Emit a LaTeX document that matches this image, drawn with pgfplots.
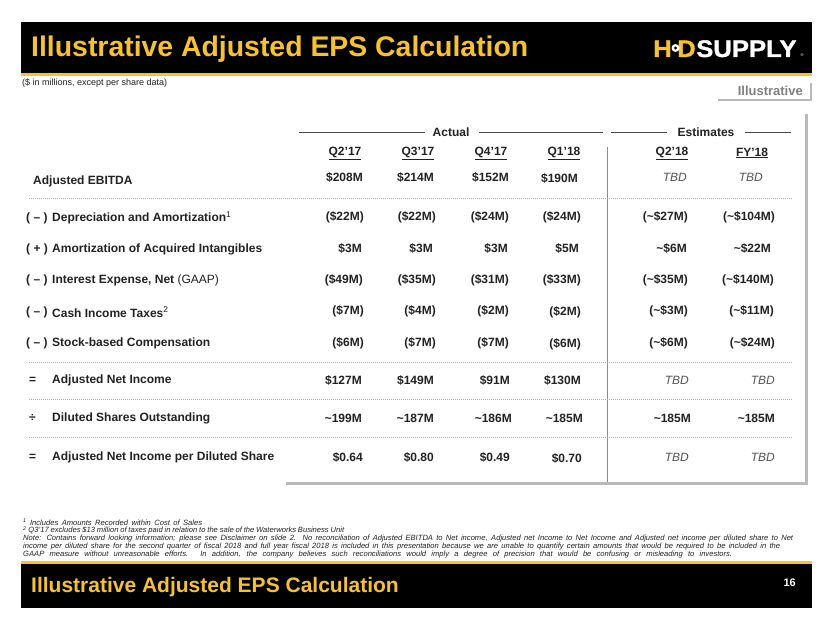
\documentclass[border=0pt]{standalone}
\usepackage{pgfplots}
\pgfplotsset{compat=1.18}
\usepackage{fontspec}
\setmainfont{Liberation Sans}
\newfontfamily\logofont[FakeStretch=1.07,FakeBold=1.2]{Liberation Sans Bold}
\usetikzlibrary{shadows}
\definecolor{hdyellow}{HTML}{F7C325}
\definecolor{txt}{HTML}{222222}
\definecolor{tbd}{HTML}{555555}
\newcommand\fs[1]{\fontsize{#1bp}{#1bp}\selectfont}
\newcommand\tl{\textasciitilde}
\tikzset{
  lab/.style={anchor=west,inner sep=0pt,font=\fs{12}\bfseries,text=txt},
  hdr/.style={anchor=center,inner sep=0pt,font=\fs{12}\bfseries,text=txt}}
\pgfplotsset{
  valstyle/.style={draw=none,mark=none,nodes near coords,point meta=explicit symbolic,
    nodes near coords align={anchor=east},
    every node near coord/.append style={anchor=east,inner sep=0pt,font=\fs{12}\bfseries,text=txt}},
  tbdstyle/.style={valstyle,every node near coord/.append style={font=\fs{12}\itshape,text=tbd}}}
\begin{document}
\begin{tikzpicture}
\begin{axis}[width=830bp,height=623bp,scale only axis,
  xmin=0,xmax=830,ymin=0,ymax=623,y dir=reverse,hide axis,clip=false]
% background
\fill[white] (0,0) rectangle (830,623);
% top banner
\fill[black] (21,22) rectangle (812,73);
\fill[hdyellow] (21,73) rectangle (812,75.5);
\node[anchor=base west,inner sep=0pt,text=hdyellow,font=\fs{28.4}\bfseries] at (31,57) {Illustrative Adjusted EPS Calculation};
% logo
\node[anchor=base west,inner sep=0pt,text=hdyellow,font=\fs{24}\logofont] at (653,57) {H};
\node[anchor=base west,inner sep=0pt,text=hdyellow,font=\fs{24}\logofont] at (677,57) {D};
\node[anchor=base west,inner sep=0pt,text=white,font=\fs{24}\logofont] at (696,57) {SUPPLY};
\node[anchor=base west,inner sep=0pt,text=white,font=\fs{4}] at (800.5,57) {\textregistered};
\fill[white] (675.5,48) circle[radius=4bp];
\fill[black] (675.5,48) circle[radius=1.6bp];
% subtitle
\node[anchor=west,inner sep=0pt,text=txt,font=\fs{9}] at (22,83) {(\$ in millions, except per share data)};
% Illustrative box
\path[fill=white,drop shadow={shadow xshift=1.5bp,shadow yshift=-1.5bp,fill=black!60,opacity=0.45}] (716,81) rectangle (810,99);
\node[anchor=east,inner sep=0pt,text=black!50,font=\fs{13}\bfseries] at (803,90.5) {Illustrative};
% table card
\path[fill=white,drop shadow={shadow xshift=2.5bp,shadow yshift=-2.5bp,fill=black!60,opacity=0.45}] (283,111) rectangle (805,482);
% group headers
\draw[black!70,line width=0.8bp] (299,132) -- (425,132);
\draw[black!70,line width=0.8bp] (479,132) -- (603,132);
\draw[black!70,line width=0.8bp] (611,132) -- (667,132);
\draw[black!70,line width=0.8bp] (745,132) -- (791,132);
\node[hdr] at (451,132) {Actual};
\node[hdr] at (706,132) {Estimates};
\node[hdr] at (345,153) {\underline{Q2’17}};
\node[hdr] at (418,153) {\underline{Q3’17}};
\node[hdr] at (491,153) {\underline{Q4’17}};
\node[hdr] at (564,153) {\underline{Q1’18}};
\node[hdr] at (672,153) {\underline{Q2’18}};
\node[hdr] at (752,153) {\underline{FY’18}};
% vertical divider
\draw[black!45,line width=1bp] (607,147) -- (607,482);
% separators
\draw[black!30,line width=0.6bp,dash pattern=on 1bp off 1bp] (29,198) -- (793,198);
\draw[black!30,line width=0.6bp,dash pattern=on 1bp off 1bp] (29,362) -- (793,362);
\draw[black!30,line width=0.6bp,dash pattern=on 1bp off 1bp] (29,399) -- (793,399);
\draw[black!30,line width=0.6bp,dash pattern=on 1bp off 1bp] (29,437) -- (793,437);
% row labels
\node[lab] at (33,181) {Adjusted EBITDA};
\node[lab] at (26,218) {( – )};
\node[lab] at (52,218) {Depreciation and Amortization\textsuperscript{\mdseries 1}};
\node[lab] at (26,249) {( + )};
\node[lab] at (52,249) {Amortization of Acquired Intangibles};
\node[lab] at (26,280) {( – )};
\node[lab] at (52,280) {Interest Expense, Net {\mdseries (GAAP)}};
\node[lab] at (26,312) {( – )};
\node[lab] at (52,312) {Cash Income Taxes\textsuperscript{\mdseries 2}};
\node[lab] at (26,343) {( – )};
\node[lab] at (52,343) {Stock-based Compensation};
\node[lab] at (29,380) {=};
\node[lab] at (52,380) {Adjusted Net Income};
\node[lab] at (29,418) {÷};
\node[lab] at (52,418) {Diluted Shares Outstanding};
\node[lab] at (29,457) {=};
\node[lab] at (52,457) {Adjusted Net Income per Diluted Share};
% values: Q2'17
\addplot[valstyle] coordinates {
 (363,177) [\$208M] (364,217) [(\$22M)] (362,248) [\$3M] (363,280) [(\$49M)]
 (364,311) [(\$7M)] (364,343) [(\$6M)] (362,380) [\$127M] (362,418) [\tl199M] (363,457) [\$0.64]};
% Q3'17
\addplot[valstyle] coordinates {
 (434,177) [\$214M] (436,217) [(\$22M)] (433,248) [\$3M] (436,280) [(\$35M)]
 (436,311) [(\$4M)] (436,343) [(\$7M)] (434,380) [\$149M] (434,418) [\tl187M] (434,457) [\$0.80]};
% Q4'17
\addplot[valstyle] coordinates {
 (509,177) [\$152M] (509,217) [(\$24M)] (508,248) [\$3M] (509,280) [(\$31M)]
 (509,311) [(\$2M)] (509,343) [(\$7M)] (510,380) [\$91M] (512,418) [\tl186M] (510,457) [\$0.49]};
% Q1'18
\addplot[valstyle] coordinates {
 (578,178) [\$190M] (581,217) [(\$24M)] (579,248) [\$5M] (581,280) [(\$33M)]
 (581,312) [(\$2M)] (581,344) [(\$6M)] (581,380) [\$130M] (583,418) [\tl185M] (582,458) [\$0.70]};
% Q2'18 estimates
\addplot[valstyle] coordinates {
 (688,217) [(\tl\$27M)] (687,248) [\tl\$6M] (688,280) [(\tl\$35M)]
 (688,311) [(\tl\$3M)] (688,343) [(\tl\$6M)] (691,418) [\tl185M]};
\addplot[tbdstyle] coordinates {(687,177) [TBD] (689,380) [TBD] (689,457) [TBD]};
% FY'18 estimates
\addplot[valstyle] coordinates {
 (775,217) [(\tl\$104M)] (771,248) [\tl\$22M] (774,280) [(\tl\$140M)]
 (774,311) [(\tl\$11M)] (775,343) [(\tl\$24M)] (775,418) [\tl185M]};
\addplot[tbdstyle] coordinates {(763,177) [TBD] (775,380) [TBD] (775,457) [TBD]};
% footnotes
\node[anchor=north west,inner sep=0pt,text=txt,align=left,
  font=\fontsize{7.6bp}{7.8bp}\selectfont\itshape] at (23,518.5) {%
\makebox[179bp][s]{\textsuperscript{1} Includes Amounts Recorded within Cost of Sales}\\
\makebox[321bp][s]{\textsuperscript{2} Q3’17 excludes \$13 million of taxes paid in relation to the sale of the Waterworks Business Unit}\\
\makebox[770bp][s]{Note: Contains forward looking information; please see Disclaimer on slide 2. No reconciliation of Adjusted EBITDA to Net income, Adjusted net Income to Net Income and Adjusted net income per diluted share to Net}\\
\makebox[757bp][s]{income per diluted share for the second quarter of fiscal 2018 and full year fiscal 2018 is included in this presentation because we are unable to quantify certain amounts that would be required to be included in the}\\
\makebox[709bp][s]{GAAP measure without unreasonable efforts. In addition, the company believes such reconciliations would imply a degree of precision that would be confusing or misleading to investors.}};
% bottom banner
\fill[hdyellow] (21,561) rectangle (812,563.5);
\fill[black] (21,563.5) rectangle (812,608);
\node[anchor=base west,inner sep=0pt,text=hdyellow,font=\fs{21}\bfseries] at (31,592) {Illustrative Adjusted EPS Calculation};
\node[anchor=base east,inner sep=0pt,text=white,font=\fs{11}\bfseries] at (796,586) {16};
\end{axis}
\end{tikzpicture}
\end{document}
